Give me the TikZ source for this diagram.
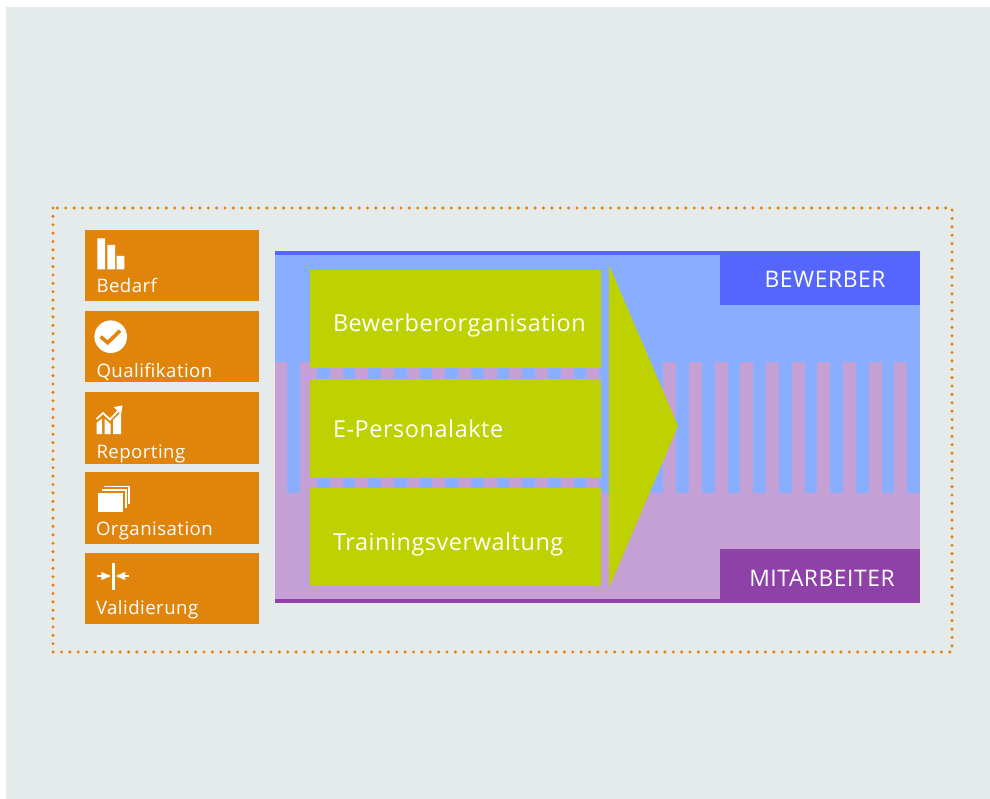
\documentclass[tikz,border=0pt]{standalone}
\usepackage{fontspec}
\setmainfont{Open Sans}[LetterSpace=2.5]
\usepackage{tikz}
\usetikzlibrary{arrows,positioning}

\definecolor{bggray}{HTML}{E5EBEB}
\definecolor{boxorange}{HTML}{E0840C}
\definecolor{lightblue}{HTML}{8AAEFF}
\definecolor{darkblue}{HTML}{5566FF}
\definecolor{lightpink}{HTML}{C4A0D4}
\definecolor{darkpurple}{HTML}{8E42A8}
\definecolor{limegreen}{HTML}{BDD200}

\begin{document}
\begin{tikzpicture}[x=1pt,y=-1pt,inner sep=0pt,outer sep=0pt]
\tikzstyle{every node}=[text=white]
\tikzstyle{sidebox}=[anchor=north west,fill=boxorange,minimum width=174pt]
\tikzstyle{sidelabel}=[anchor=base west,font=\fontsize{18.6}{22}\selectfont]
\tikzstyle{modulebox}=[anchor=north west,fill=limegreen,minimum width=291pt]
\tikzstyle{modulelabel}=[anchor=base west,font=\fontsize{23.4}{27}\selectfont]
\tikzstyle{tabbox}=[anchor=north west,fill=#1,minimum width=200pt,minimum height=54pt]
\tikzstyle{tablabel}=[anchor=base,font=\fontsize{22.8}{27}\selectfont]
\tikzstyle{icon}=[fill=white,draw=none]

\useasboundingbox (0,0) rectangle (990,799);
\fill[bggray] (6,7) rectangle (990,799);
\draw[boxorange,line width=3.4pt,line cap=round,dash pattern=on 0pt off 8.38pt] (53,208) rectangle (952,652);

% side column
\node[sidebox,minimum height=71pt] (bedarf) at (85,230) {};
\node[sidebox,minimum height=71pt] (qualifikation) at (85,311) {};
\node[sidebox,minimum height=72pt] (reporting) at (85,392) {};
\node[sidebox,minimum height=72pt] (organisation) at (85,472) {};
\node[sidebox,minimum height=71pt] (validierung) at (85,553) {};
\node[sidelabel] (bedarflabel) at (96.5,292.5) {Bedarf};
\node[sidelabel] (qualifikationlabel) at (96.5,377.5) {Qualifikation};
\node[sidelabel] (reportinglabel) at (96.5,458) {Reporting};
\node[sidelabel] (organisationlabel) at (96,535) {Organisation};
\node[sidelabel] (validierunglabel) at (96,614.5) {Validierung};

% icons
\fill[icon] (97.3,238.3) rectangle (105,269.3) (107.3,245) rectangle (115,269.3) (116.7,256) rectangle (124.3,269.3);
\fill[icon] (110.7,336.7) circle (16.3pt);
\draw[boxorange,line width=3.6pt] (100.7,336.7) -- (107.7,342.7) -- (120,330.7);
\fill[icon] (96.5,434) -- (96.5,423) -- (102,418.5) -- (102,434) -- cycle
  (104.5,434) -- (104.5,418.5) -- (110.5,424) -- (110.5,434) -- cycle
  (113,434) -- (113,420) -- (121,412) -- (121,434) -- cycle;
\draw[white,line width=1.8pt] (96.5,419) -- (103,413) -- (110,419.5) -- (120,409);
\fill[icon] (122.5,405.5) -- (113.5,407) -- (121,414.5) -- cycle;
\draw[white,line width=1.4pt] (104,486.5) -- (129,486.5) -- (129,504);
\draw[white,line width=1.4pt] (101.5,490) -- (126,490) -- (126,508);
\fill[icon] (98.3,493) rectangle (122.5,512.3);
\draw[white,line width=2.4pt] (113.3,562.7) -- (113.3,590);
\draw[white,line width=2pt,-stealth'] (97.3,576) -- (110,576);
\draw[white,line width=2pt,-stealth'] (129.3,576) -- (116.6,576);

% panel
\fill[lightblue] (275,251) rectangle (920,362);
\fill[lightpink] (275,362) rectangle (920,603);
\fill[lightblue] (287.3,362) rectangle (300.3,493);
\foreach \k in {0,...,23}
  \fill[lightblue] ({316.9+\k*25.67},362) rectangle ({329.6+\k*25.67},493);
\fill[darkblue] (275,251) rectangle (920,255);
\fill[darkpurple] (275,599) rectangle (920,603);
\node[tabbox=darkblue] (bewerber) at (720,251) {};
\node[tabbox=darkpurple] (mitarbeiter) at (720,549) {};
\node[tablabel] (bewerberlabel) at (825,288) {BEWERBER};
\node[tablabel] (mitarbeiterlabel) at (822,586) {MITARBEITER};

% modules
\node[modulebox,minimum height=98pt] (bewerberorganisation) at (310,270) {};
\node[modulebox,minimum height=99pt] (epersonalakte) at (310,379) {};
\node[modulebox,minimum height=98pt] (trainingsverwaltung) at (310,488) {};
\node[modulelabel] (bewerberorganisationlabel) at (333,331) {Bewerberorganisation};
\node[modulelabel] (epersonalaktelabel) at (333,437) {E-Personalakte};
\node[modulelabel] (trainingsverwaltunglabel) at (333,550) {Trainingsverwaltung};
\fill[limegreen] (609,265) -- (678,426) -- (609,588) -- cycle;
\end{tikzpicture}
\end{document}
